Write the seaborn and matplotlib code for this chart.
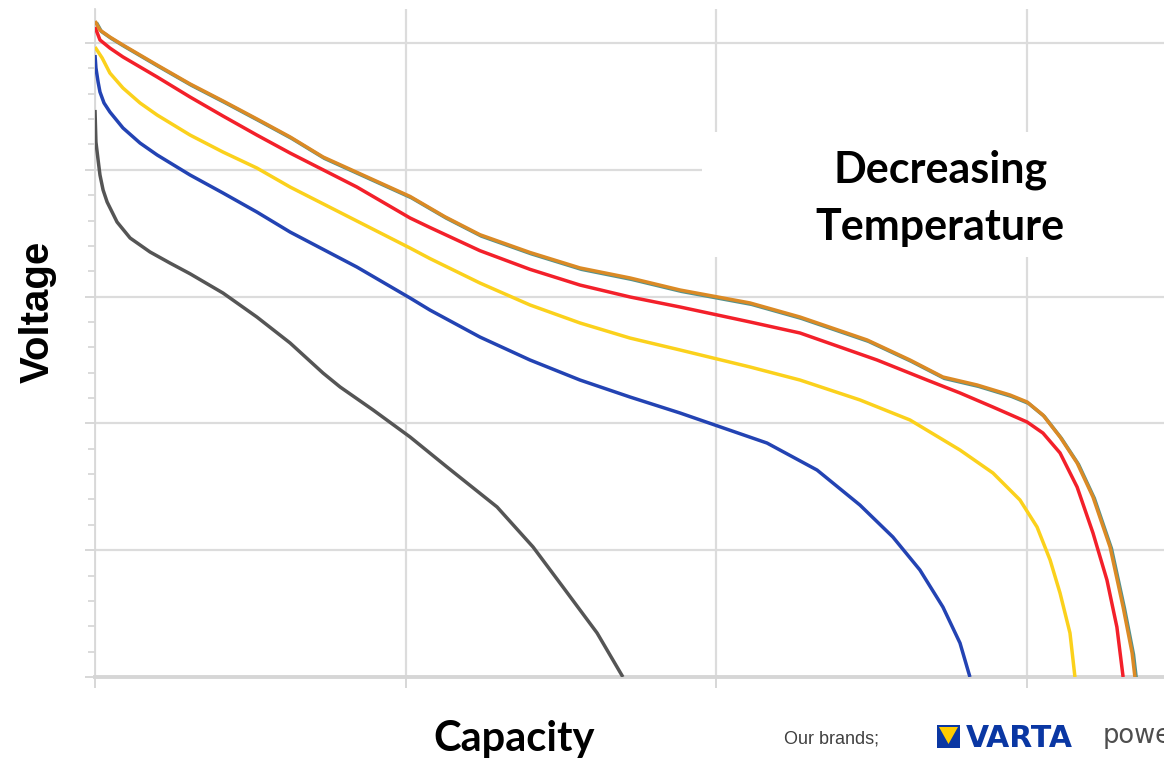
import numpy as np
import pandas as pd
import matplotlib
matplotlib.use("Agg")
import matplotlib.pyplot as plt
import matplotlib.patheffects as pe
from matplotlib.patches import Rectangle, Polygon
import seaborn as sns

# ---------------- data ----------------
series_names = ["coldest", "cold", "cool", "mild", "warm"]

grey_cap = [0.000, 0.003, 0.010, 0.016, 0.026, 0.039, 0.071, 0.113, 0.177, 0.241,
            0.306, 0.412, 0.521, 0.628, 0.734, 0.789, 0.895, 1.014, 1.133, 1.294,
            1.410, 1.506, 1.616, 1.699]
grey_volt = [4.472, 4.219, 4.077, 3.959, 3.841, 3.746, 3.588, 3.462, 3.352, 3.265,
             3.180, 3.028, 2.839, 2.634, 2.397, 2.287, 2.106, 1.893, 1.656, 1.341,
             1.025, 0.710, 0.347, 0.000]

blue_cap = [0.000, 0.003, 0.010, 0.016, 0.029, 0.048, 0.090, 0.145, 0.200, 0.306,
            0.412, 0.521, 0.628, 0.843, 1.014, 1.078, 1.239, 1.400, 1.561, 1.722,
            1.883, 2.163, 2.324, 2.462, 2.568, 2.655, 2.729, 2.784, 2.816]
blue_volt = [4.905, 4.803, 4.692, 4.614, 4.527, 4.456, 4.330, 4.211, 4.117, 3.959,
             3.817, 3.667, 3.509, 3.233, 2.989, 2.894, 2.681, 2.500, 2.342, 2.208,
             2.082, 1.845, 1.632, 1.356, 1.104, 0.844, 0.552, 0.268, 0.000]

yellow_cap = [0.000, 0.023, 0.048, 0.090, 0.145, 0.200, 0.306, 0.412, 0.521, 0.628,
              0.843, 1.014, 1.078, 1.239, 1.400, 1.561, 1.722, 1.883, 2.108, 2.269,
              2.462, 2.623, 2.784, 2.890, 2.977, 3.032, 3.074, 3.106, 3.138, 3.154]
yellow_volt = [4.968, 4.882, 4.763, 4.645, 4.527, 4.432, 4.274, 4.140, 4.014, 3.864,
               3.596, 3.383, 3.300, 3.107, 2.934, 2.792, 2.673, 2.579, 2.445, 2.342,
               2.185, 2.027, 1.790, 1.609, 1.396, 1.183, 0.923, 0.662, 0.347, 0.000]

red_cap = [0.000, 0.016, 0.048, 0.090, 0.200, 0.306, 0.412, 0.521, 0.628, 0.843,
           1.014, 1.078, 1.239, 1.400, 1.561, 1.722, 1.883, 2.108, 2.269, 2.517,
           2.678, 2.784, 2.890, 3.000, 3.051, 3.106, 3.161, 3.212, 3.257, 3.289,
           3.309]
red_volt = [5.126, 5.024, 4.960, 4.890, 4.732, 4.574, 4.424, 4.274, 4.132, 3.864,
            3.620, 3.545, 3.362, 3.215, 3.091, 2.997, 2.918, 2.800, 2.713, 2.500,
            2.342, 2.240, 2.129, 2.011, 1.924, 1.767, 1.498, 1.136, 0.765, 0.394,
            0.000]

orange_cap = [0.000, 0.016, 0.048, 0.090, 0.200, 0.306, 0.412, 0.521, 0.628, 0.734,
              1.014, 1.126, 1.239, 1.400, 1.561, 1.722, 1.883, 2.108, 2.269, 2.485,
              2.623, 2.729, 2.839, 2.945, 3.000, 3.051, 3.106, 3.161, 3.212, 3.267,
              3.309, 3.338, 3.347]
orange_volt = [5.173, 5.102, 5.047, 4.984, 4.826, 4.677, 4.543, 4.401, 4.259, 4.101,
               3.790, 3.630, 3.488, 3.348, 3.226, 3.147, 3.052, 2.950, 2.839, 2.658,
               2.500, 2.366, 2.303, 2.224, 2.169, 2.066, 1.893, 1.688, 1.420, 1.025,
               0.552, 0.189, 0.000]

x_grid = [0, 1, 2, 3]
y_grid = [0, 1, 2, 3, 4, 5]

# ---------------- build long table ----------------
frames = []
for name, cx, vy in zip(series_names,
                        [grey_cap, blue_cap, yellow_cap, red_cap, orange_cap],
                        [grey_volt, blue_volt, yellow_volt, red_volt, orange_volt]):
    frames.append(pd.DataFrame({"Capacity": cx, "Voltage": vy, "series": name}))
df = pd.concat(frames, ignore_index=True)

palette = {"coldest": "#555555", "cold": "#2343b3", "cool": "#fbd11c",
           "mild": "#f3202a", "warm": "#db8a25"}

sns.set_theme(style="white")
plt.rcParams["font.family"] = ["Liberation Sans", "DejaVu Sans"]

W, H = 1164, 758
fig = plt.figure(figsize=(W / 100, H / 100), dpi=100)
fig.patch.set_facecolor("white")
ax = fig.add_axes([95 / W, (H - 677) / H, (W - 95) / W, (677 - 9) / H])

sns.lineplot(data=df, x="Capacity", y="Voltage", hue="series",
             hue_order=series_names, palette=palette, sort=False,
             estimator=None, legend=False, linewidth=2.5, ax=ax, zorder=3)

for ln in ax.lines:
    ln.set_solid_joinstyle("round")
    ln.set_solid_capstyle("butt")
    if matplotlib.colors.to_hex(ln.get_color()) == palette["warm"]:
        ln.set_path_effects([pe.Stroke(linewidth=2.5, foreground="#55918c",
                                       offset=(1.0, -1.0)), pe.Normal()])
        ln.set_zorder(4)

ax.set_xlim(0, (W - 95) / 310.7)
ax.set_ylim(0, (677 - 9) / 126.8)
ax.set_xticks(x_grid)
ax.set_yticks(y_grid)
ax.set_yticks(np.arange(0, 5.01, 0.2), minor=True)
ax.set_xticklabels([])
ax.set_yticklabels([])
ax.set_xlabel("")
ax.set_ylabel("")
ax.grid(True, which="major", color="#dcdcdc", linewidth=1.6)
ax.set_axisbelow(True)
ax.tick_params(axis="y", which="major", left=True, length=7, width=1.3,
               color="#d4d4d4", direction="out")
ax.tick_params(axis="y", which="minor", left=True, length=5, width=1.2,
               color="#d4d4d4", direction="out")
ax.tick_params(axis="x", which="major", bottom=True, length=8, width=1.3,
               color="#d4d4d4", direction="out")
for s in ["top", "right"]:
    ax.spines[s].set_visible(False)
ax.spines["left"].set_color("#d8d8d8")
ax.spines["left"].set_linewidth(1.3)
ax.spines["bottom"].set_color("#d6d6d6")
ax.spines["bottom"].set_linewidth(2.8)

# white label box that hides the grid behind the annotation
x0 = (702 - 95) / (W - 95)
y0 = (677 - 257) / (677 - 9)
y1 = (677 - 132) / (677 - 9)
ax.add_patch(Rectangle((x0, y0), 1 - x0, y1 - y0, transform=ax.transAxes,
                       facecolor="white", edgecolor="none", zorder=1.5))

# ---------------- overlay for texts and logos (pixel coords) ----------------
ov = fig.add_axes([0, 0, 1, 1])
ov.set_xlim(0, W)
ov.set_ylim(H, 0)
ov.axis("off")

ov.text(941, 183, "Decreasing", ha="center", va="baseline", fontsize=31,
        fontweight="bold", family=["Lato", "DejaVu Sans"], color="black")
ov.text(940, 240, "Temperature", ha="center", va="baseline", fontsize=31,
        fontweight="bold", family=["Lato", "DejaVu Sans"], color="black")
ov.text(514, 751, "Capacity", ha="center", va="baseline", fontsize=30,
        fontweight="bold", family=["Lato", "DejaVu Sans"], color="black")
ov.text(38, 312, "Voltage", ha="center", va="center", rotation=90, fontsize=29,
        fontweight="bold", family=["Liberation Sans", "DejaVu Sans"], color="black")

ov.text(784, 743, "Our brands;", ha="left", va="baseline", fontsize=13,
        family=["Liberation Sans", "DejaVu Sans"], color="#404040")
ov.add_patch(Rectangle((937, 725), 23, 23, facecolor="#0a37a3", edgecolor="none"))
ov.add_patch(Polygon([(939, 727), (958, 727), (948.5, 744)], closed=True,
                     facecolor="#ffcc00", edgecolor="none"))
ov.text(966, 747, "VARTA", ha="left", va="baseline", fontsize=21.5,
        fontweight="bold", family=["DejaVu Sans"], color="#0a37a3")
ov.text(1103, 743, "power", ha="left", va="baseline", fontsize=18.5,
        family=["DejaVu Sans"], color="#4e4e4e")

fig.savefig("out.png", dpi=100, facecolor="white")
